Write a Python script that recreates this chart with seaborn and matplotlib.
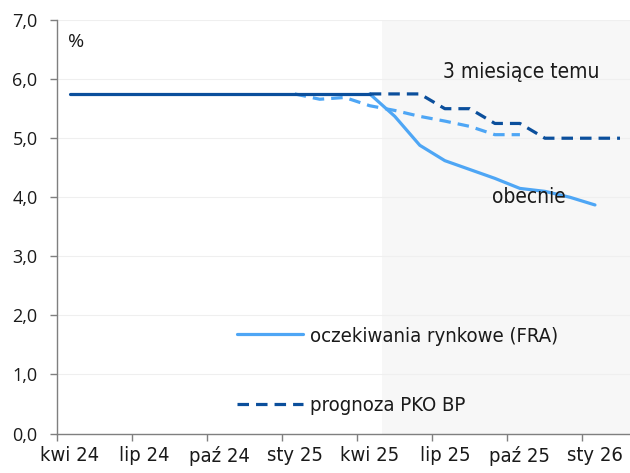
import numpy as np
import pandas as pd
import seaborn as sns
import matplotlib.pyplot as plt
from matplotlib.lines import Line2D
from matplotlib.ticker import FixedLocator, FuncFormatter
from matplotlib.font_manager import FontProperties

months = ['kwi 24', 'maj 24', 'cze 24', 'lip 24', 'sie 24', 'wrz 24', 'paź 24', 'lis 24',
          'gru 24', 'sty 25', 'lut 25', 'mar 25', 'kwi 25', 'maj 25', 'cze 25', 'lip 25',
          'sie 25', 'wrz 25', 'paź 25', 'lis 25', 'gru 25', 'sty 26', 'lut 26']

# stopa referencyjna - historia (kwi 24 - kwi 25)
history = [5.75, 5.75, 5.75, 5.75, 5.75, 5.75, 5.75, 5.75, 5.75, 5.75, 5.75, 5.75, 5.75]
# prognoza PKO BP (kwi 25 - lut 26)
pko = [5.75, 5.75, 5.75, 5.50, 5.50, 5.25, 5.25, 5.00, 5.00, 5.00, 5.00]
# FRA obecnie (kwi 25 - sty 26)
fra_now = [5.75, 5.37, 4.88, 4.62, 4.47, 4.32, 4.15, 4.10, 4.00, 3.87]
# FRA 3 miesiace temu (sty 25 - paz 25)
fra_3m = [5.75, 5.66, 5.69, 5.55, 5.47, 5.37, 5.29, 5.20, 5.06, 5.06]

dark = '#0b4f9c'
light = '#4ea6f5'

def tfont(size):
    return FontProperties(family=['DejaVu Sans'], stretch='condensed', size=size)

def frame(vals, start):
    idx = np.arange(start, start + len(vals))
    return pd.DataFrame({'x': idx + 0.5, 'y': vals})

sns.set_theme(style='white')
plt.rcParams['font.family'] = ['Open Sans', 'DejaVu Sans']

fig = plt.figure(figsize=(6.3, 4.73), dpi=100)
ax = fig.add_axes([0.0905, 0.0835, 0.9095, 0.874])

ax.axvspan(13, 22.9, color='#f7f7f7', zorder=0.2, lw=0)

sns.lineplot(data=frame(fra_3m, 9), x='x', y='y', ax=ax, color=light, lw=2.3)
ax.lines[-1].set_dashes((3.6, 2.2))
sns.lineplot(data=frame(fra_now, 12), x='x', y='y', ax=ax, color=light, lw=2.3)
sns.lineplot(data=frame(history, 0), x='x', y='y', ax=ax, color=dark, lw=2.3)
sns.lineplot(data=frame(pko, 12), x='x', y='y', ax=ax, color=dark, lw=2.3)
ax.lines[-1].set_dashes((3.6, 2.2))

ax.set_xlim(0, 22.9)
ax.set_ylim(0, 7)
ax.set_yticks(np.arange(0, 8, 1))
ax.yaxis.set_major_formatter(FuncFormatter(lambda v, p: f'{v:.1f}'.replace('.', ',')))
ax.grid(axis='y', color='#efefef', lw=0.8)
ax.set_axisbelow(True)

ax.xaxis.set_major_locator(FixedLocator(np.arange(0, 22, 3)))
ax.xaxis.set_minor_locator(FixedLocator(np.arange(0, 22, 3) + 0.5))
ax.set_xticklabels([], minor=False)
ax.set_xticklabels(months[0::3], minor=True, fontproperties=tfont(14.5))
ax.tick_params(axis='x', which='major', length=5, width=1, color='#7f7f7f', bottom=True)
ax.tick_params(axis='x', which='minor', length=0, pad=9, colors='#1a1a1a', bottom=True)
ax.tick_params(axis='y', length=5, width=1, color='#7f7f7f', left=True, pad=9,
               labelsize=13, labelcolor='#1a1a1a')
ax.set_xlabel('')
ax.set_ylabel('')

for s in ['top', 'right']:
    ax.spines[s].set_visible(False)
for s in ['left', 'bottom']:
    ax.spines[s].set_color('#7f7f7f')
    ax.spines[s].set_linewidth(1)

ax.text(0.45, 6.63, '%', fontsize=14, color='#1a1a1a', va='center')
ax.text(18.55, 6.12, '3 miesiące temu', fontproperties=tfont(15),
        ha='center', va='center', color='#1a1a1a')
ax.text(18.85, 4.0, 'obecnie', fontproperties=tfont(15),
        ha='center', va='center', color='#1a1a1a')

handles = [Line2D([], [], color=light, lw=2.3),
           Line2D([], [], color=dark, lw=2.3, dashes=(3.6, 2.2))]
ax.legend(handles, ['oczekiwania rynkowe (FRA)', 'prognoza PKO BP'],
          loc='lower left', bbox_to_anchor=(0.282, 0.0), frameon=False,
          prop=tfont(14.6), labelspacing=2.5,
          handlelength=3.25, handletextpad=0.35, labelcolor='#1a1a1a')

fig.savefig('out.png', dpi=100)
